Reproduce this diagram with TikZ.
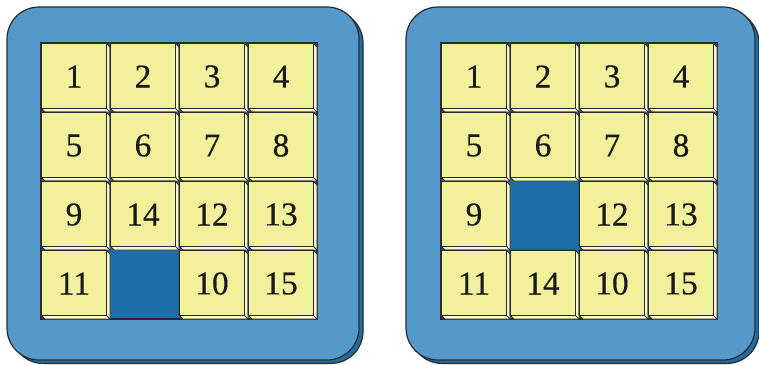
\documentclass[tikz,border=0pt]{standalone}
\usepackage{fontspec}
\setmainfont{Liberation Serif}
\newfontfamily\tilefont[FakeBold=0.4]{Liberation Serif}
\definecolor{boardblue}{HTML}{5499C9}
\definecolor{deepblue}{HTML}{1F6DA6}
\definecolor{tileface}{HTML}{F3F09C}
\definecolor{tilebevel}{HTML}{FAF8D2}
\definecolor{edgegray}{HTML}{2B2B2B}
\tikzset{
  boardface/.style={draw=edgegray,line width=0.9pt,fill=boardblue,rounded corners=24pt},
  boardshadow/.style={draw=edgegray,line width=0.9pt,fill=deepblue,rounded corners=24pt},
  holebox/.style={draw=edgegray,line width=0.9pt,fill=deepblue},
  bevelpart/.style={draw=edgegray,line width=0.7pt,fill=tilebevel,line join=miter},
  facepart/.style={draw=edgegray,line width=0.7pt,fill=tileface},
  edgeline/.style={draw=edgegray,line width=0.6pt},
  tilenum/.style={inner sep=0pt,font=\tilefont\fontsize{25}{25}\selectfont,text=black!90}
}
\newcommand\puzzleboard[5]{%
  \draw[boardshadow] (#1+4,11) rectangle (#1+#5+4,363.4);
  \draw[boardface] (#1,7) rectangle (#1+#5,360);
  \draw[holebox] (#2,43) rectangle (#2+276,319);
  \foreach \lab [count=\k from 0] in {#4} {
    \pgfmathtruncatemacro\col{mod(\k,4)}
    \pgfmathtruncatemacro\row{div(\k,4)}
    \ifnum\lab=0\relax\else
      \begin{scope}[shift={(#2+69*\col,43+69*\row)}]
        \filldraw[bevelpart] (0,0) -- (65,0) -- (69,4) -- (69,69) -- (4,69) -- (0,65) -- cycle;
        \filldraw[facepart] (0,0) rectangle (65,65);
        \draw[edgeline] (65,65) -- (69,69);
        \node[tilenum] (#3\lab) at (33,33.5) {\lab};
      \end{scope}
    \fi
  }%
}
\begin{document}
\begin{tikzpicture}[x=0.75pt,y=-0.75pt]
\useasboundingbox (0,0) rectangle (759,364);
\puzzleboard{7}{41}{L}{1,2,3,4,5,6,7,8,9,14,12,13,11,0,10,15}{352}
\puzzleboard{406}{441}{R}{1,2,3,4,5,6,7,8,9,0,12,13,11,14,10,15}{349}
\end{tikzpicture}
\end{document}
